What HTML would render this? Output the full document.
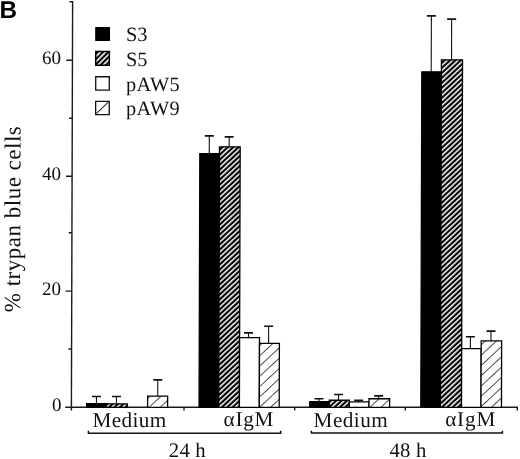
<!DOCTYPE html>
<html><head><meta charset="utf-8">
<style>
html,body{margin:0;padding:0;background:#fff;}
body{width:520px;height:459px;overflow:hidden;}
svg{display:block;transform:translateZ(0);}
text{font-family:"Liberation Serif",serif;fill:#111;}
</style></head>
<body>
<svg width="520" height="459" viewBox="0 0 520 459">
<defs>
<pattern id="h1" patternUnits="userSpaceOnUse" width="3.66" height="10" patternTransform="rotate(47)">
<rect x="0" y="0" width="3.66" height="10" fill="#000"/>
<rect x="0" y="0" width="1.5" height="10" fill="#fff"/>
</pattern>
<pattern id="h1L" patternUnits="userSpaceOnUse" width="3.75" height="10" patternTransform="rotate(45)">
<rect x="0" y="0" width="3.75" height="10" fill="#000"/>
<rect x="1.89" y="0" width="1.6" height="10" fill="#fff"/>
</pattern>
<pattern id="h2" patternUnits="userSpaceOnUse" width="7.53" height="10" patternTransform="rotate(47)">
<rect x="0" y="0" width="7.53" height="10" fill="#fff"/>
<rect x="0" y="0" width="0.85" height="10" fill="#333"/>
</pattern>
</defs>
<g transform="matrix(1,0,-0.003,1,1.2219,0)">
<text x="-1.6" y="17.7" style="font-family:'Liberation Sans',sans-serif;font-weight:bold;font-size:24.3px;fill:#000">B</text>

<g stroke="#1a1a1a" stroke-width="1.4" fill="none">
<line x1="71.4" y1="1.1" x2="71.4" y2="410.6"/>
<line x1="65.2" y1="407.3" x2="518.0" y2="407.3"/>
<line x1="65.3" y1="291.10" x2="71.4" y2="291.10"/>
<line x1="65.3" y1="176.30" x2="71.4" y2="176.30"/>
<line x1="65.3" y1="60.30" x2="71.4" y2="60.30"/>
<line x1="68.2" y1="349.00" x2="71.4" y2="349.00"/>
<line x1="68.2" y1="232.80" x2="71.4" y2="232.80"/>
<line x1="68.2" y1="118.30" x2="71.4" y2="118.30"/>
<line x1="68.2" y1="1.80" x2="71.4" y2="1.80"/>
<line x1="184.0" y1="407.3" x2="184.0" y2="410.6"/>
<line x1="294.7" y1="407.3" x2="294.7" y2="410.6"/>
<line x1="405.3" y1="407.3" x2="405.3" y2="410.6"/>
<line x1="517.3" y1="407.3" x2="517.3" y2="410.6"/>
</g>

<text x="59.95" y="64.00" font-size="19" text-anchor="end">60</text>
<text x="60.30" y="180.50" font-size="19" text-anchor="end">40</text>
<text x="60.65" y="295.50" font-size="19" text-anchor="end">20</text>
<text x="61.50" y="411.50" font-size="19" text-anchor="end">0</text>
<text x="124.88" y="41.40" font-size="20.3" >S3</text>
<text x="124.96" y="66.20" font-size="20.3" >S5</text>
<text x="125.03" y="90.80" font-size="20.3" textLength="53.6" lengthAdjust="spacing">pAW5</text>
<text x="125.11" y="114.60" font-size="20.3" textLength="53.6" lengthAdjust="spacing">pAW9</text>
<text x="92.50" y="427.00" font-size="21.2" textLength="73.8" lengthAdjust="spacing">Medium</text>
<text x="223.60" y="426.40" font-size="21.2" textLength="49.9" lengthAdjust="spacing">αIgM</text>
<text x="313.60" y="427.00" font-size="21.2" textLength="74.3" lengthAdjust="spacing">Medium</text>
<text x="445.20" y="426.40" font-size="21.2" textLength="50.2" lengthAdjust="spacing">αIgM</text>
<text x="169.00" y="456.80" font-size="20.7" textLength="36.8" lengthAdjust="spacing">24 h</text>
<text x="389.60" y="456.80" font-size="20.7" textLength="36.8" lengthAdjust="spacing">48 h</text>

<text transform="translate(19.74,312.2) rotate(-90)" x="0" y="0" font-size="23" textLength="186" lengthAdjust="spacing">% trypan blue cells</text>

<g transform="translate(-1.01,0)">
<rect x="95.7" y="27.6" width="13.6" height="12.7" fill="#000" stroke="#000" stroke-width="1.2"/>
<rect x="95.7" y="51.5" width="13.6" height="13.7" fill="url(#h1L)" stroke="#000" stroke-width="1.5"/>
<rect x="95.75" y="76.75" width="13.6" height="13.3" fill="#fff" stroke="#111" stroke-width="1.3"/>
<rect x="95.75" y="101.35" width="13.6" height="13.2" fill="#fff" stroke="#111" stroke-width="1.3"/>
<line x1="96.4" y1="113.6" x2="108.4" y2="102.2" stroke="#222" stroke-width="1"/>
</g>

<g stroke="#000" stroke-width="1.3">
<rect x="86.65" y="403.55" width="19.85" height="3.75" fill="#000"/>
<rect x="106.50" y="403.85" width="20.90" height="3.45" fill="url(#h1)"/>
<rect x="147.60" y="396.20" width="20.00" height="11.10" fill="url(#h2)"/>
<rect x="199.05" y="153.65" width="19.65" height="253.65" fill="#000"/>
<rect x="218.70" y="146.85" width="20.70" height="260.45" fill="url(#h1)"/>
<rect x="239.40" y="337.70" width="19.90" height="69.60" fill="#fff"/>
<rect x="259.30" y="343.30" width="19.90" height="64.00" fill="url(#h2)"/>
<rect x="309.75" y="401.75" width="19.45" height="5.55" fill="#000"/>
<rect x="329.20" y="400.25" width="20.10" height="7.05" fill="url(#h1)"/>
<rect x="349.30" y="401.80" width="19.70" height="5.50" fill="#fff"/>
<rect x="369.00" y="398.75" width="20.60" height="8.55" fill="url(#h2)"/>
<rect x="420.80" y="71.85" width="19.60" height="335.45" fill="#000"/>
<rect x="440.40" y="59.85" width="21.10" height="347.45" fill="url(#h1)"/>
<rect x="461.50" y="348.60" width="19.50" height="58.70" fill="#fff"/>
<rect x="481.00" y="340.80" width="20.45" height="66.50" fill="url(#h2)"/>
</g>
<g stroke="#111" fill="none">
<g stroke-width="1.1">
<line x1="96.40" y1="396.50" x2="96.40" y2="403.40"/>
<line x1="116.40" y1="396.50" x2="116.40" y2="403.70"/>
<line x1="157.70" y1="379.90" x2="157.70" y2="396.70"/>
<line x1="208.50" y1="135.90" x2="208.50" y2="153.50"/>
<line x1="228.40" y1="136.90" x2="228.40" y2="146.70"/>
<line x1="248.28" y1="332.90" x2="248.28" y2="338.20"/>
<line x1="268.38" y1="326.20" x2="268.38" y2="343.80"/>
<line x1="319.00" y1="398.80" x2="319.00" y2="401.60"/>
<line x1="338.50" y1="394.50" x2="338.50" y2="400.10"/>
<line x1="358.60" y1="400.40" x2="358.60" y2="402.30"/>
<line x1="378.60" y1="395.90" x2="378.60" y2="399.25"/>
<line x1="430.20" y1="15.90" x2="430.20" y2="71.70"/>
<line x1="450.50" y1="19.10" x2="450.50" y2="59.70"/>
<line x1="470.20" y1="336.80" x2="470.20" y2="349.10"/>
<line x1="490.78" y1="331.10" x2="490.78" y2="341.30"/>
</g>
<g stroke-width="1.6">
<line x1="91.90" y1="396.50" x2="100.90" y2="396.50"/>
<line x1="111.90" y1="396.50" x2="120.90" y2="396.50"/>
<line x1="153.20" y1="379.90" x2="162.20" y2="379.90"/>
<line x1="204.00" y1="135.90" x2="213.00" y2="135.90"/>
<line x1="223.90" y1="136.90" x2="232.90" y2="136.90"/>
<line x1="243.78" y1="332.90" x2="252.78" y2="332.90"/>
<line x1="263.88" y1="326.20" x2="272.88" y2="326.20"/>
<line x1="314.50" y1="398.80" x2="323.50" y2="398.80"/>
<line x1="334.00" y1="394.50" x2="343.00" y2="394.50"/>
<line x1="354.10" y1="400.40" x2="363.10" y2="400.40"/>
<line x1="374.10" y1="395.90" x2="383.10" y2="395.90"/>
<line x1="425.70" y1="15.90" x2="434.70" y2="15.90"/>
<line x1="446.00" y1="19.10" x2="455.00" y2="19.10"/>
<line x1="465.70" y1="336.80" x2="474.70" y2="336.80"/>
<line x1="486.28" y1="331.10" x2="495.28" y2="331.10"/>
</g>
</g>

<g stroke="#111" stroke-width="1.5" fill="none">
<polyline points="88.5,430.8 88.5,433.3 280.7,433.3 280.7,430.8"/>
<polyline points="311.5,430.8 311.5,433 502.5,433 502.5,430.8"/>
</g>
</g>
</svg>
</body></html>
